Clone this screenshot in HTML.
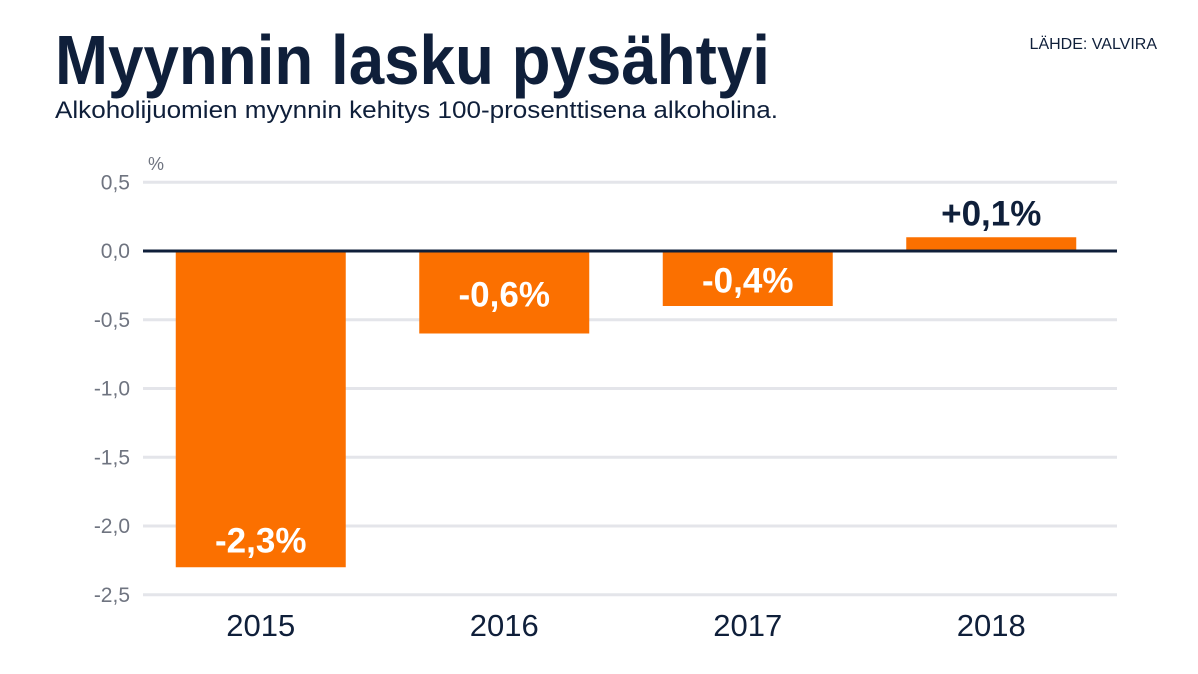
<!DOCTYPE html>
<html><head><meta charset="utf-8"><style>
html,body{margin:0;padding:0;background:#fff;}
svg{display:block;font-family:"Liberation Sans",sans-serif;}
</style></head><body>
<svg width="1198" height="674" viewBox="0 0 1198 674">
<text x="55" y="84" font-size="70" font-weight="bold" fill="#0f1f3a" textLength="715" lengthAdjust="spacingAndGlyphs">Myynnin lasku pysähtyi</text>
<text x="55" y="118" font-size="24" fill="#0f1f3a" textLength="723" lengthAdjust="spacingAndGlyphs">Alkoholijuomien myynnin kehitys 100-prosenttisena alkoholina.</text>
<text x="1157" y="49" font-size="16" fill="#0f1f3a" text-anchor="end">LÄHDE: VALVIRA</text>
<text x="148" y="170" font-size="18" fill="#6f7480">%</text>
<g id="grid"></g>
<g id="bars"></g>
<line id="zero" stroke="#0f1f3a" stroke-width="3"></line>
<g id="labels"></g>
</svg>
<script>
const categories = ["2015","2016","2017","2018"];
const values = [-2.3,-0.6,-0.4,0.1];
const valueLabels = ["-2,3%","-0,6%","-0,4%","+0,1%"];
const yTicks = [0.5,0,-0.5,-1,-1.5,-2,-2.5];
const yTickLabels = ["0,5","0,0","-0,5","-1,0","-1,5","-2,0","-2,5"];

const NS="http://www.w3.org/2000/svg";
const x0=143,x1=1117,zeroY=251,unit=137.5;
const y=v=>zeroY-v*unit;
const band=(x1-x0)/categories.length;
const barW=170;
const cx=i=>x0+band*(i+0.5)-4;
function mk(tag,attrs,parent){const e=document.createElementNS(NS,tag);for(const k in attrs)e.setAttribute(k,attrs[k]);parent.appendChild(e);return e;}
const grid=document.getElementById('grid'),bars=document.getElementById('bars'),labels=document.getElementById('labels');
yTicks.forEach((t,i)=>{
  if(t!==0){const l=mk('line',{x1:x0,x2:x1,y1:y(t),y2:y(t),stroke:'#e4e5ea','stroke-width':3},grid);
  
  }
  const tx=mk('text',{x:130,y:y(t)+7,'font-size':21,fill:'#6f7480','text-anchor':'end'},grid);
  tx.textContent=yTickLabels[i];
  
  
});
const z=document.getElementById('zero');
z.setAttribute('x1',x0);z.setAttribute('x2',x1);z.setAttribute('y1',zeroY);z.setAttribute('y2',zeroY);
categories.forEach((c,i)=>{
  const v=values[i];
  const top=Math.min(y(v),zeroY),h=Math.abs(y(v)-zeroY);
  const r=mk('rect',{x:cx(i)-barW/2,y:top,width:barW,height:h,fill:'#fb7000'},bars);
  
  
  const yl=mk('text',{x:cx(i),y:636,'font-size':31,fill:'#0f1f3a','text-anchor':'middle'},labels);
  yl.textContent=c;
  
  
  let ly,col;
  if(v>=0){ly=y(v)-12;col='#0f1f3a';}
  else if(h>100){ly=y(v)-15;col='#fff';}
  else{ly=zeroY+h/2+14;col='#fff';}
  const vl=mk('text',{x:cx(i),y:ly,'font-size':35,'font-weight':'bold',fill:col,'text-anchor':'middle'},labels);
  vl.textContent=valueLabels[i];
  
  
});
</script>
</body></html>
